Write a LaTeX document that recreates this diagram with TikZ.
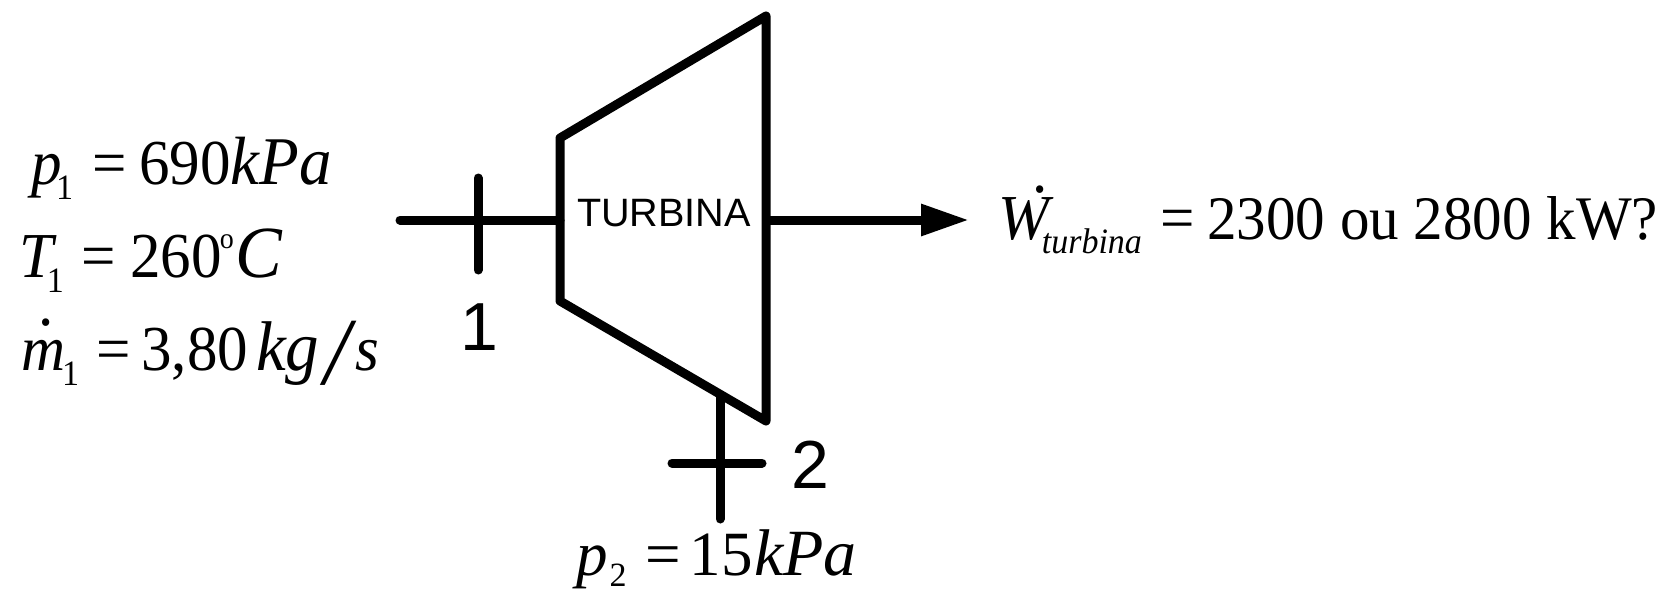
\documentclass[tikz,border=0pt]{standalone}
\usepackage{fontspec}
\setmainfont{Liberation Serif}
\newfontfamily\arialf{Liberation Sans}
\newcommand{\iv}[1]{{\itshape #1}}
\newcommand{\bigiv}[2][65]{{\fontsize{#1}{70}\selectfont\itshape #2}}
\newcommand{\sbs}[2][15pt]{\raisebox{-#1}{\fontsize{34}{38}\selectfont #2}}
\newcommand{\dotat}[3]{\leavevmode\rlap{\kern#2\raisebox{#3}{.}}}
\newcommand{\tallr}[1]{\scalebox{1}[1.05]{#1}}
\usetikzlibrary{arrows.meta}
\tikzset{
  x=1pt,y=-1pt,
  thick line/.style={line width=9pt,line cap=round,line join=round,draw=black},
  eqn/.style={anchor=base west,inner sep=0pt,outer sep=0pt,font=\fontsize{61}{70}\selectfont},
  lab/.style={anchor=base west,inner sep=0pt,outer sep=0pt,font=\arialf\fontsize{68}{70}\selectfont},
}
\begin{document}
\begin{tikzpicture}
\useasboundingbox (0,0) rectangle (1659,591);
\draw[thick line] (560,138) -- (766,16) -- (766,421) -- (560,301) -- cycle;
\coordinate (tl) at (560,220);
\coordinate (tr) at (770,220);
\coordinate (tb) at (720,395);
\coordinate (inl) at (400,220);
\coordinate (tick1a) at (478,178);
\coordinate (tick1b) at (478,270);
\coordinate (outb) at (720,519);
\coordinate (tick2a) at (672,463);
\coordinate (tick2b) at (762,463);
\coordinate (aro) at (969,220);
\draw[thick line] (inl) -- (tl);
\draw[thick line] (tick1a) -- (tick1b);
\draw[thick line] (tb) -- (outb);
\draw[thick line] (tick2a) -- (tick2b);
\draw[line width=9pt,draw=black,-{Triangle[length=48pt,width=30pt,fill=black]}] (tr) -- (aro);
\node[anchor=center,inner sep=0pt,font=\arialf\fontsize{39.6}{44}\selectfont] (turb) at (664,213) {TURBINA};
\node[lab] (n1) at (460,350) {1};
\node[lab] (n2) at (791,488) {2};
\node[eqn] (p1) at (31,184) {\tallr{\iv{p}\kern-5.5pt\sbs{1}\kern19pt=\kern13pt 690\bigiv{kPa}}};
\node[eqn] (t1) at (19,277) {\tallr{\iv{T}\kern-6pt\sbs{1}\kern18pt=\kern14pt 260\kern-2pt\raisebox{27pt}{\fontsize{28}{30}\selectfont o}\kern2pt\bigiv[70]{C}}};
\node[eqn] (m1) at (21,370) {\tallr{\dotat{}{17.5pt}{42pt}\iv{m}\kern-3pt\sbs{1}\kern17pt=\kern11pt 3,80\kern8pt\bigiv[67]{kg}\kern5pt\raisebox{-14pt}{\scalebox{1.5}{\iv{/}}}\kern6pt\iv{s}}};
\node[eqn] (w) at (998,239) {\tallr{\dotat{}{34pt}{44pt}\iv{W}\kern-7pt\raisebox{-14pt}{\fontsize{34}{38}\selectfont\iv{turbina}}\kern19pt=\kern12pt{\fontsize{59}{70}\selectfont 2300 ou 2800 kW?}}};
\node[eqn] (p2) at (576,575) {\fontsize{63}{70}\selectfont\iv{p}\kern2pt\sbs[11pt]{2}\kern19pt=\kern9pt 15\kern1pt\bigiv[66]{kPa}};
\end{tikzpicture}
\end{document}
